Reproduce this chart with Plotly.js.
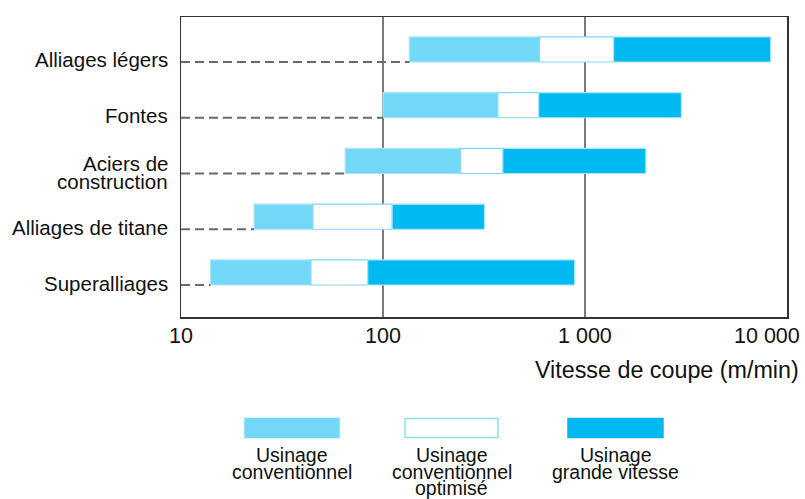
<!DOCTYPE html>
<html>
<head>
<meta charset="utf-8">
<script src="https://cdn.plot.ly/plotly-3.0.1.min.js"></script>
<style>html,body{margin:0;padding:0;background:#fff}#chart{width:805px;height:499px}</style>
</head>
<body>
<div id="chart"></div>
<script>
// ---- data ----
const categories = ["Alliages légers", "Fontes", "Aciers de\nconstruction", "Alliages de titane", "Superalliages"];
const categoryPos = [4, 3, 2, 1, 0];
const conventionalStart = [135, 100, 65, 23, 14];
const optimizedStart = [595, 370, 242, 45, 44];
const highSpeedStart = [1385, 590, 392, 111, 84];
const highSpeedEnd = [8300, 3000, 2000, 318, 888];
const xTickVals = [10, 100, 1000, 10000];
const xTickText = ["10", "100", "1 000", "10 000"];
const xTitle = "Vitesse de coupe (m/min)";
const legendLines = [["Usinage", "conventionnel"], ["Usinage", "conventionnel", "optimisé"], ["Usinage", "grande vitesse"]];

// ---- styles ----
const FONT = "Liberation Sans, Arial, sans-serif";
const TXT = "#111";
const cLight = "#73d8f7";
const cDark = "#00b9f1";
const cEdge = "#a6e6f8";
const xMin = 10, xMax = 10000;
const barW = 0.45;

const diff = (a, b) => a.map((v, i) => v - b[i]);

const traces = [];
// dashed leader lines from the left border to the start of each range
categoryPos.forEach((y, i) => {
  traces.push({
    type: "scatter", mode: "lines",
    x: [xMin, conventionalStart[i]], y: [y, y],
    line: {color: "#6a6a6a", width: 1.8, dash: "9px,5px"},
    hoverinfo: "skip", showlegend: false
  });
});
function seg(base, end, fill, edge) {
  return {
    type: "bar", orientation: "h",
    y: categoryPos, base: base, x: diff(end, base),
    width: barW, offset: 0,
    marker: {color: fill, line: {color: edge, width: 1.2}},
    showlegend: false, hoverinfo: "skip"
  };
}
traces.push(seg(conventionalStart, optimizedStart, cLight, cEdge));
traces.push(seg(optimizedStart, highSpeedStart, "#ffffff", "#7fd9f5"));
traces.push(seg(highSpeedStart, highSpeedEnd, cDark, cEdge));

// ---- layout helpers (plot area: x 181..787, y 17..317) ----
const L = 181, R = 787, T = 17, B = 317;
const px2x = p => (p - L) / (R - L);
const px2y = p => (B - p) / (B - T);

const annotations = [];
// category labels
categories.forEach((c, i) => {
  const lines = c.split("\n");
  const shifts = lines.length === 1 ? [2] : [10, -8];
  lines.forEach((t, j) => {
    annotations.push({
      x: px2x(169), xref: "paper", y: categoryPos[i], yref: "y",
      text: t, showarrow: false, xanchor: "right", yanchor: "middle",
      yshift: shifts[j], borderpad: 0,
      font: {family: FONT, size: 20.5, color: TXT}
    });
  });
});
// x tick labels
xTickVals.forEach((v, i) => {
  const last = i === xTickVals.length - 1;
  annotations.push({
    x: Math.log10(v), xref: "x", y: px2y(336), yref: "paper",
    text: xTickText[i], showarrow: false,
    xanchor: last ? "right" : "center", xshift: last ? 15 : 0, yanchor: "middle",
    font: {family: FONT, size: 21.5, color: TXT}
  });
});
// x title
annotations.push({
  x: px2x(801), xref: "paper", y: px2y(370), yref: "paper",
  text: xTitle, showarrow: false, xanchor: "right", yanchor: "middle",
  font: {family: FONT, size: 23.3, color: TXT}
});

// legend
const swatches = [[245, 339], [405, 498], [568, 663]];
const swFill = [cLight, "#ffffff", cDark];
const swLine = [cLight, "#8fdcf5", cDark];
const shapes = [];
swatches.forEach((s, i) => {
  shapes.push({
    type: "rect", xref: "paper", yref: "paper",
    x0: px2x(s[0]), x1: px2x(s[1]), y0: px2y(418.5), y1: px2y(437.5),
    fillcolor: swFill[i], line: {color: swLine[i], width: 1.5}
  });
  legendLines[i].forEach((t, j) => {
    annotations.push({
      x: px2x((s[0] + s[1]) / 2), xref: "paper", y: px2y(455 + j * 16.5), yref: "paper",
      text: t, showarrow: false, xanchor: "center", yanchor: "middle", borderpad: 0,
      font: {family: FONT, size: 19.5, color: TXT}
    });
  });
});

const layout = {
  width: 805, height: 499,
  margin: {l: L, r: 805 - R, t: T, b: 499 - B},
  paper_bgcolor: "#fff", plot_bgcolor: "#fff",
  barmode: "overlay",
  xaxis: {
    type: "log", range: [Math.log10(xMin), Math.log10(xMax)],
    tickvals: xTickVals, showticklabels: false, ticks: "",
    showgrid: true, gridcolor: "#7a7a7a", gridwidth: 1.5,
    showline: true, mirror: true, linecolor: "#333", linewidth: 1.5,
    zeroline: false, fixedrange: true
  },
  yaxis: {
    range: [-0.574, 4.807],
    tickvals: categoryPos, showticklabels: false, ticks: "",
    showgrid: false, zeroline: false,
    showline: true, mirror: true, linecolor: "#333", linewidth: 1.5,
    fixedrange: true
  },
  shapes: shapes,
  annotations: annotations,
  showlegend: false
};

Plotly.newPlot("chart", traces, layout, {displayModeBar: false, staticPlot: true});
</script>
</body>
</html>
